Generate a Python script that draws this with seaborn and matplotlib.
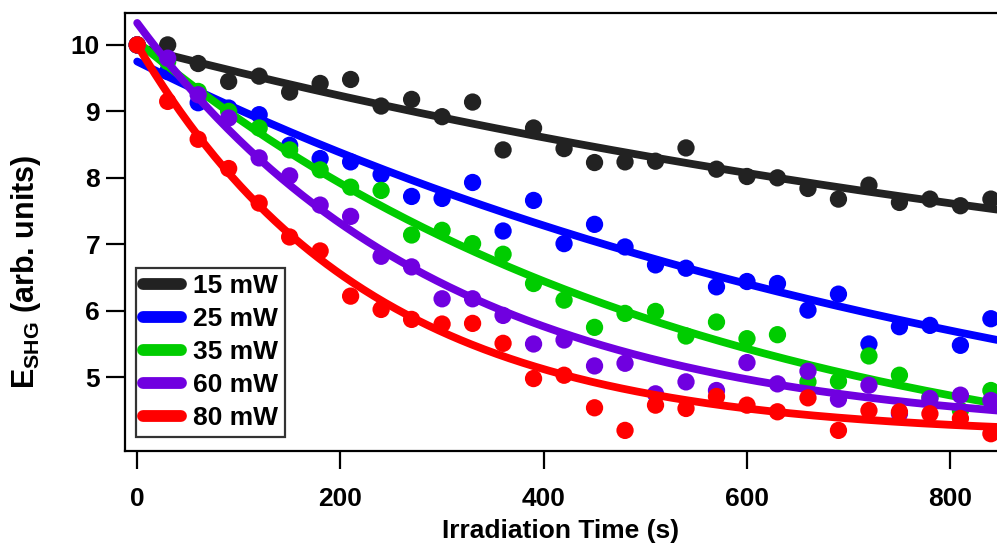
import numpy as np
import pandas as pd
import matplotlib
matplotlib.use('Agg')
import matplotlib.pyplot as plt
from matplotlib.lines import Line2D
import seaborn as sns

# irradiation time (s)
time_s = [0, 30, 60, 90, 120, 150, 180, 210, 240, 270, 300, 330, 360, 390, 420,
          450, 480, 510, 540, 570, 600, 630, 660, 690, 720, 750, 780, 810, 840]

# E_SHG, one list per power
e_15mw = [10.0, 10.0, 9.72, 9.45, 9.53, 9.29, 9.42, 9.48, 9.08, 9.18, 8.92, 9.14, 8.42, 8.75, 8.44,
          8.23, 8.24, 8.25, 8.45, 8.13, 8.02, 8.00, 7.84, 7.68, 7.89, 7.63, 7.68, 7.58, 7.68]
e_25mw = [10.0, 9.60, 9.13, 9.05, 8.95, 8.49, 8.29, 8.24, 8.05, 7.72, 7.69, 7.93, 7.20, 7.66, 7.01,
          7.30, 6.96, 6.69, 6.64, 6.36, 6.44, 6.41, 6.01, 6.25, 5.50, 5.76, 5.78, 5.48, 5.88]
e_35mw = [10.0, 9.75, 9.30, 9.00, 8.75, 8.42, 8.12, 7.86, 7.81, 7.14, 7.21, 7.01, 6.85, 6.41, 6.16,
          5.75, 5.96, 5.99, 5.62, 5.83, 5.58, 5.64, 4.93, 4.94, 5.32, 5.03, 4.70, 4.50, 4.80]
e_60mw = [10.0, 9.80, 9.25, 8.90, 8.30, 8.03, 7.59, 7.42, 6.82, 6.66, 6.18, 6.18, 5.93, 5.50, 5.56,
          5.17, 5.21, 4.75, 4.93, 4.80, 5.22, 4.90, 5.09, 4.67, 4.88, 4.45, 4.68, 4.73, 4.65]
e_80mw = [10.0, 9.15, 8.58, 8.14, 7.62, 7.11, 6.90, 6.22, 6.02, 5.87, 5.80, 5.81, 5.51, 4.98, 5.03,
          4.54, 4.20, 4.58, 4.53, 4.71, 4.58, 4.48, 4.69, 4.20, 4.50, 4.48, 4.45, 4.38, 4.15]

powers = ['15 mW', '25 mW', '35 mW', '60 mW', '80 mW']
series = [e_15mw, e_25mw, e_35mw, e_60mw, e_80mw]
colors = ['#222222', '#0000ff', '#00cc00', '#7000e0', '#ff0000']

# exponential fits y = offset + amp * exp(-t / tau), estimated from the drawn curves
fit_offset = [4.99, 2.89, 3.16, 4.13, 4.11]
fit_amp = [4.98, 6.86, 6.89, 6.20, 5.89]
fit_tau = [1251, 897, 540, 300, 227]

sns.set_style('ticks')
plt.rcParams['font.family'] = ['Liberation Sans', 'DejaVu Sans']
plt.rcParams['font.weight'] = 'bold'
plt.rcParams['text.color'] = 'black'
plt.rcParams['axes.labelcolor'] = 'black'
plt.rcParams['mathtext.fontset'] = 'custom'
plt.rcParams['mathtext.rm'] = 'Liberation Sans:bold'
plt.rcParams['mathtext.bf'] = 'Liberation Sans:bold'

fig = plt.figure(figsize=(9.97, 5.48), dpi=100)
ax = fig.add_axes([125 / 997, 1 - 451 / 548, 872 / 997, 438 / 548])

t_fit = np.linspace(0, 846, 400)
for i, name in enumerate(powers):
    pts = pd.DataFrame({'t': time_s, 'E': series[i]})
    sns.scatterplot(data=pts, x='t', y='E', color=colors[i], s=155, edgecolor='none',
                    marker='o', ax=ax, zorder=3 + 2 * i, clip_on=False)
    fit = pd.DataFrame({'t': t_fit,
                        'E': fit_offset[i] + fit_amp[i] * np.exp(-t_fit / fit_tau[i])})
    sns.lineplot(data=fit, x='t', y='E', color=colors[i], linewidth=5.6, ax=ax,
                 zorder=4 + 2 * i, solid_capstyle='round')

ax.set_xlim(-12, 846)
ax.set_ylim(3.89, 10.48)
ax.set_xticks([0, 200, 400, 600, 800])
ax.set_yticks([5, 6, 7, 8, 9, 10])
ax.tick_params(axis='both', direction='out', width=1.6, labelsize=19, colors='black')
ax.tick_params(axis='y', length=14, pad=4)
ax.tick_params(axis='x', length=13, pad=13)
for lab in ax.get_xticklabels() + ax.get_yticklabels():
    lab.set_fontweight('bold')

for side in ['left', 'top', 'bottom']:
    ax.spines[side].set_linewidth(1.6)
    ax.spines[side].set_color('black')
ax.spines['right'].set_visible(False)

ax.set_xlabel('Irradiation Time (s)', fontsize=19, fontweight='bold', labelpad=6)
ax.set_ylabel(r'E$_{\mathbf{SHG}}$ (arb. units)', fontsize=22, fontweight='bold')
ax.yaxis.set_label_coords(-0.094, 0.41)

handles = [Line2D([], [], color=c, linewidth=8.5, solid_capstyle='round') for c in colors]
leg = ax.legend(handles, powers, loc='lower left', bbox_to_anchor=(0.013, 0.032),
                prop={'weight': 'bold', 'size': 19}, frameon=True, fancybox=False,
                handlelength=1.45, handletextpad=0.45, labelspacing=0.34,
                borderpad=0.25, borderaxespad=0)
leg.get_frame().set_edgecolor('black')
leg.get_frame().set_linewidth(1.6)
leg.set_zorder(20)

fig.savefig('out.png', dpi=100)
